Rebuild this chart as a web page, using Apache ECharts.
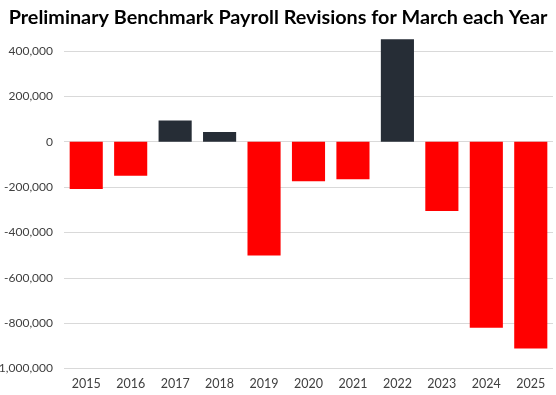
<!DOCTYPE html>
<html>
<head>
<meta charset="utf-8">
<script src="https://cdn.jsdelivr.net/npm/echarts@6/dist/echarts.min.js"></script>
<style>html,body{margin:0;padding:0;background:#fff}#c{width:556px;height:395px}</style>
</head>
<body>
<div id="c"></div>
<script>
const years = ['2015','2016','2017','2018','2019','2020','2021','2022','2023','2024','2025'];
const revisions = [-208000, -150000, 94000, 43000, -502000, -174000, -166000, 452000, -306000, -820000, -912000];
const yTicks = { min: -1000000, max: 400000, interval: 200000 };
const posColor = '#262d36', negColor = '#ff0000';

const chart = echarts.init(document.getElementById('c'));
chart.setOption({
  animation: false,
  title: {
    text: 'Preliminary Benchmark Payroll Revisions for March each Year',
    left: 'center', top: 3,
    textStyle: { fontFamily: 'Lato', fontWeight: 'bold', fontSize: 19.8, color: '#000' }
  },
  grid: { left: 64, right: 3, top: 51, bottom: 26.5, containLabel: false, outerBoundsMode: 'none' },
  xAxis: {
    type: 'category', data: years,
    axisLine: { show: false, onZero: false },
    axisTick: { show: false },
    axisLabel: { color: '#404040', fontSize: 12.5, fontFamily: 'Lato', margin: 9 }
  },
  yAxis: {
    type: 'value', min: yTicks.min, max: yTicks.max, interval: yTicks.interval,
    axisLabel: {
      color: '#404040', fontSize: 12, fontFamily: 'Lato', margin: 11,
      formatter: v => v.toLocaleString('en-US')
    },
    splitLine: { lineStyle: { color: '#d9d9d9', width: 1 } }
  },
  series: [{
    type: 'bar', clip: false, barCategoryGap: '25.5%',
    data: revisions.map(v => ({ value: v, itemStyle: { color: v >= 0 ? posColor : negColor } }))
  }]
});
</script>
</body>
</html>
